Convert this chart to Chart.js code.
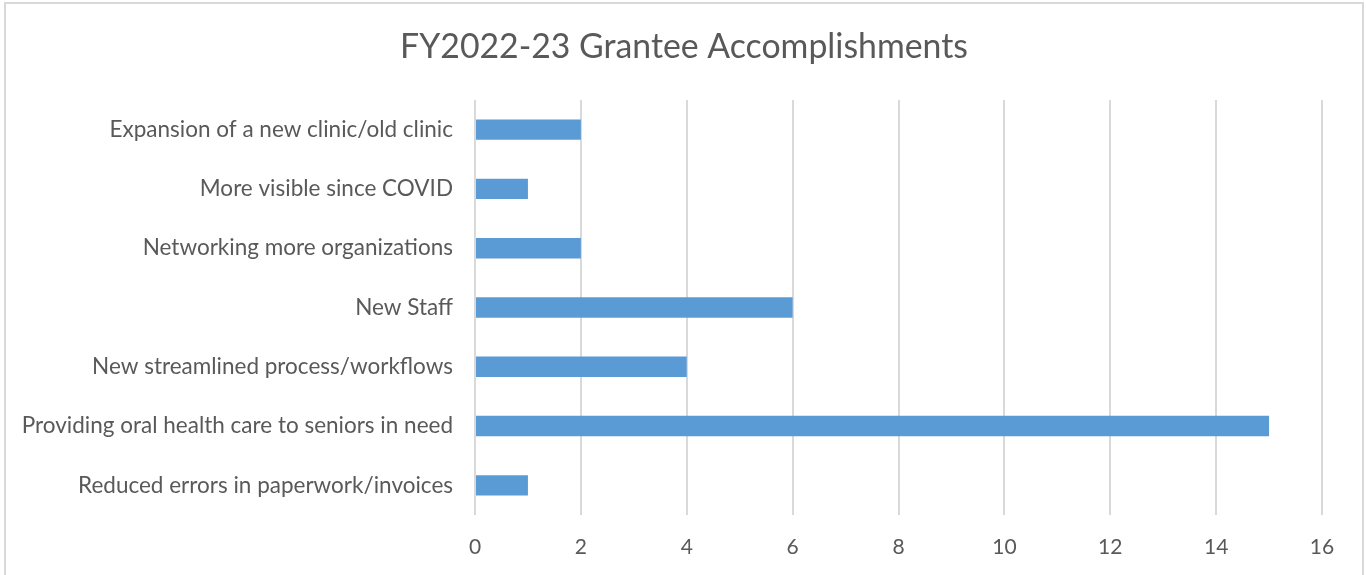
<!DOCTYPE html>
<html>
<head>
<meta charset="utf-8">
<script src="https://cdn.jsdelivr.net/npm/chart.js@4"></script>
<style>
  html, body { margin: 0; padding: 0; background: #ffffff; overflow: hidden; }
  #frame { position: absolute; left: 4px; top: 2px; width: 1356px; height: 580px; border: 2px solid #d9d9d9; border-bottom: none; background: #fff; }
  #wrap { position: absolute; left: 0; top: 0; width: 1356px; height: 571px; }
</style>
</head>
<body>
<div id="frame"><div id="wrap"><canvas id="c"></canvas></div></div>
<script>
const title = "FY2022-23 Grantee Accomplishments";
const categories = [
  "Expansion of a new clinic/old clinic",
  "More visible since COVID",
  "Networking more organizations",
  "New Staff",
  "New streamlined process/workflows",
  "Providing oral health care to seniors in need",
  "Reduced errors in paperwork/invoices"
];
const counts = [2, 1, 2, 6, 4, 15, 1];
const xTicks = [0, 2, 4, 6, 8, 10, 12, 14, 16];

const FONT = "Lato, 'Open Sans', sans-serif";
const TEXT = "#595959";

// Center the title on the whole canvas rather than the padded layout box
const centerTitle = {
  id: 'centerTitle',
  afterLayout(chart) {
    if (chart.titleBlock) {
      chart.titleBlock.left = 0;
      chart.titleBlock.right = chart.width;
    }
  }
};

new Chart(document.getElementById('c'), {
  type: 'bar',
  data: {
    labels: categories,
    datasets: [{
      data: counts,
      backgroundColor: '#5B9BD5',
      borderWidth: 0,
      categoryPercentage: 1.0,
      barPercentage: 0.345
    }]
  },
  plugins: [centerTitle],
  options: {
    indexAxis: 'y',
    responsive: true,
    maintainAspectRatio: false,
    animation: false,
    layout: { padding: { left: 0, right: 40, top: 0, bottom: 0 } },
    plugins: {
      legend: { display: false },
      tooltip: { enabled: false },
      title: {
        display: true,
        text: title,
        color: TEXT,
        font: { family: FONT, size: 33.8, weight: 'normal' },
        padding: { top: 23, bottom: 32.4 }
      }
    },
    scales: {
      x: {
        min: 0, max: 16,
        afterBuildTicks: (s) => { s.ticks = xTicks.map(v => ({ value: v })); },
        ticks: { color: TEXT, font: { family: FONT, size: 21 }, padding: 20 },
        grid: { color: '#d9d9d9', lineWidth: 2, drawTicks: false },
        border: { display: false },
        afterFit: (s) => { s.height = 60; }
      },
      y: {
        ticks: { color: TEXT, font: { family: FONT, size: 22.5 }, padding: 22 },
        grid: { display: false, drawTicks: false },
        border: { display: false },
        afterFit: (s) => { s.width = 469; }
      }
    }
  }
});
</script>
</body>
</html>
